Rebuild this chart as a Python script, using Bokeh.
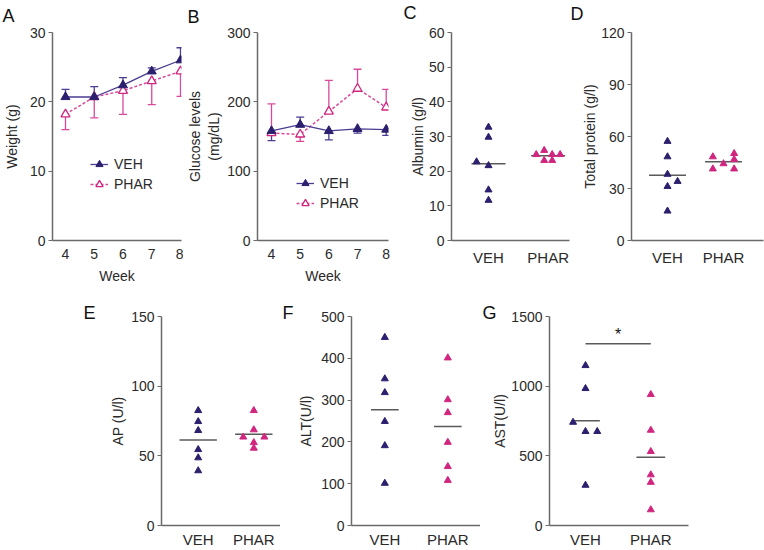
import numpy as np
from bokeh.plotting import figure
from bokeh.layouts import column, row
from bokeh.models import FixedTicker, Legend, LegendItem, Label, Spacer, Range1d
from bokeh.embed import file_html
from bokeh.resources import INLINE

# ---------------- data ----------------
weeks = [4, 5, 6, 7, 8]
weight_veh = [20.7, 20.7, 22.4, 24.4, 26.0]
weight_veh_sem = [1.1, 1.5, 1.1, 0.5, 1.8]
weight_veh_dir = [1, 1, 1, 1, 1]
weight_phar = [18.2, 20.7, 21.6, 23.0, 24.4]
weight_phar_sem = [2.2, 3.0, 3.4, 3.4, 3.6]
weight_phar_dir = [-1, -1, -1, -1, -1]

glucose_veh = [158, 167, 158, 161, 160]
glucose_veh_sem = [14, 11, 13, 6, 8.5]
glucose_veh_dir = [-1, 1, -1, -1, -1]
glucose_phar = [155, 153, 186, 219, 192]
glucose_phar_sem = [42, 10, 45, 28, 26]
glucose_phar_dir = [1, -1, 1, 1, 1]

groups = ["VEH", "PHAR"]

albumin_veh = [32.7, 29.8, 22.7, 21.6, 14.6, 11.6]
albumin_veh_jit = [0, 0, -0.2, 0, 0, 0]
albumin_phar = [24.8, 26.0, 24.8, 24.8, 23.1, 23.1]
albumin_phar_jit = [-0.2, -0.067, 0.067, 0.2, -0.067, 0.067]

protein_veh = [57.2, 48.3, 38.2, 31.2, 34.1, 17.0]
protein_veh_jit = [0, 0, 0, 0, 0.18, 0]
protein_phar = [48.3, 41.3, 44.3, 50.2, 46.8, 41.3]
protein_phar_jit = [-0.19, -0.19, 0, 0.19, 0.19, 0.19]

ap_veh = [82.5, 74.6, 68.2, 54.5, 48.6, 39.3]
ap_veh_jit = [0, 0, 0, 0, 0, 0]
ap_phar = [82.5, 68.7, 63.5, 63.5, 59.5, 55.5]
ap_phar_jit = [0, 0, -0.19, 0.19, 0, 0]

alt_veh = [450, 351, 318, 249, 191, 101]
alt_veh_jit = [0, 0, 0, 0, 0, 0]
alt_phar = [401, 301, 270, 199, 141, 108]
alt_phar_jit = [0, 0, 0, 0, 0, 0]

ast_veh = [1148, 983, 741, 675, 675, 289]
ast_veh_jit = [0, 0, -0.19, 0, 0.18, 0]
ast_phar = [940, 684, 531, 364, 310, 113]
ast_phar_jit = [0, 0, 0, 0, 0, 0]
ast_sig_y = 1305
ast_sig_text = "*"

# ---------------- style ----------------
FONT = "Liberation Sans"
VEH_C = "#2c1f6e"
VEH_LINE = "#4a3c90"
PHAR_C = "#d0267f"
PHAR_LINE = "#d9489a"
AXIS_C = "#6a6a6a"
TEXT_C = "#2a2a2a"
MEAN_C = "#5a5a5a"


def base_fig(w, h, xr, yr, mbl, mbr, mbt, mbb, yticks, ylabel, standoff):
    p = figure(width=w, height=h, x_range=Range1d(*xr), y_range=Range1d(*yr),
               output_backend="svg", toolbar_location=None,
               min_border_left=mbl, min_border_right=mbr,
               min_border_top=mbt, min_border_bottom=mbb)
    p.grid.visible = False
    p.outline_line_color = None
    p.background_fill_color = "white"
    p.border_fill_color = "white"
    for ax in (p.xaxis[0], p.yaxis[0]):
        ax.axis_line_color = AXIS_C
        ax.axis_line_width = 1.5
        ax.minor_tick_line_color = None
        ax.major_label_text_font = FONT
        ax.major_label_text_color = TEXT_C
        ax.axis_label_text_font = FONT
        ax.axis_label_text_font_style = "normal"
        ax.axis_label_text_color = TEXT_C
        ax.axis_label_text_font_size = "14px"
    y = p.yaxis[0]
    y.ticker = FixedTicker(ticks=yticks)
    y.major_tick_out = 4
    y.major_tick_in = 0
    y.major_tick_line_color = AXIS_C
    y.major_tick_line_width = 1.2
    y.major_label_standoff = 3
    y.major_label_text_font_size = "14px"
    y.axis_label = ylabel
    y.axis_label_standoff = standoff
    x = p.xaxis[0]
    x.major_tick_out = 0
    x.major_tick_in = 0
    x.major_label_standoff = 8
    return p


def letter_label(p, text, x, y):
    # panel letter in the "above" side panel (coordinates relative to that panel)
    p.add_layout(Label(x=x, y=y, x_units="screen", y_units="screen", text=text,
                       text_font=FONT, text_font_size="18px", text_color="#111111",
                       text_baseline="alphabetic", text_align="left"), "above")


def letter_title(p, text, offset, standoff):
    p.title.text = text
    p.title.align = "left"
    p.title.offset = offset
    p.title.standoff = standoff
    p.title.text_font = FONT
    p.title.text_font_size = "18px"
    p.title.text_font_style = "normal"
    p.title.text_color = "#111111"


def errbars(p, xs, means, sems, dirs, color):
    xs = np.array(xs, dtype=float)
    m = np.array(means, dtype=float)
    e = m + np.array(dirs) * np.array(sems, dtype=float)
    p.segment(x0=xs, x1=xs, y0=m, y1=e, line_color=color, line_width=1.3)
    p.scatter(xs, e, marker="dash", size=8, line_color=color, line_width=1.3)


def line_panel(w, xr, yr, mbl, mbr, mbt, yticks, ylabel, standoff,
               veh, veh_sem, veh_dir, phar, phar_sem, phar_dir, leg_loc):
    p = base_fig(w, 290, xr, yr, mbl, mbr, mbt, 50, yticks, ylabel, standoff)
    x = p.xaxis[0]
    x.ticker = FixedTicker(ticks=weeks)
    x.major_label_text_font_size = "14px"
    x.axis_label = "Week"
    x.axis_label_standoff = 6
    errbars(p, weeks, phar, phar_sem, phar_dir, PHAR_LINE)
    errbars(p, weeks, veh, veh_sem, veh_dir, VEH_LINE)
    lp = p.line(weeks, phar, line_color=PHAR_LINE, line_width=1.5, line_dash="3 2")
    lv = p.line(weeks, veh, line_color=VEH_LINE, line_width=1.3)
    sp = p.scatter(weeks, phar, marker="triangle", size=9, fill_color="white",
                   line_color=PHAR_C, line_width=1.3)
    sv = p.scatter(weeks, veh, marker="triangle", size=9, fill_color=VEH_C,
                   line_color=VEH_C)
    leg = Legend(items=[LegendItem(label="VEH", renderers=[lv, sv]),
                        LegendItem(label="PHAR", renderers=[lp, sp])],
                 location=leg_loc, border_line_color=None,
                 background_fill_alpha=0, padding=0, margin=0, spacing=2,
                 glyph_width=18, glyph_height=18, label_height=18,
                 label_standoff=6, label_text_font=FONT,
                 label_text_font_size="14px", label_text_color=TEXT_C)
    p.add_layout(leg)
    return p


def dot_panel(w, h, xr, yr, mbl, mbr, mbt, mbb, yticks, ylabel, standoff,
              veh, veh_jit, phar, phar_jit, half):
    p = base_fig(w, h, xr, yr, mbl, mbr, mbt, mbb, yticks, ylabel, standoff)
    x = p.xaxis[0]
    x.ticker = FixedTicker(ticks=[1, 2])
    x.major_label_overrides = {1: groups[0], 2: groups[1]}
    x.major_label_text_font_size = "15px"
    x.major_label_standoff = 5
    for k, (vals, jit, col) in enumerate(((veh, veh_jit, VEH_C), (phar, phar_jit, PHAR_C))):
        c = k + 1
        mu = float(np.mean(vals))
        p.segment(x0=[c - half], x1=[c + half], y0=[mu], y1=[mu],
                  line_color=MEAN_C, line_width=1.5)
        xs = c + np.array(jit, dtype=float)
        p.scatter(xs, vals, marker="triangle", size=7, fill_color=col, line_color=col)
    return p


# ---------------- top row ----------------
pA = line_panel(183, (3.548, 8.035), (0, 30), 52, 2, 32, [0, 10, 20, 30],
                "Weight (g)", 7, weight_veh, weight_veh_sem, weight_veh_dir,
                weight_phar, weight_phar_sem, weight_phar_dir, (38, 47))
letter_label(pA, "A", -50, 17)

pB = line_panel(212, (3.512, 8.08), (0, 300), 74, 7, 28, [0, 100, 200, 300],
                "Glucose levels\n(mg/dL)", 2, glucose_veh, glucose_veh_sem, glucose_veh_dir,
                glucose_phar, glucose_phar_sem, glucose_phar_dir, (39, 28))
letter_label(pB, "B", -70, 16)

pC = dot_panel(175, 290, (0.38, 2.357), (0, 60), 56, 1, 30, 50,
               [0, 10, 20, 30, 40, 50, 60], "Albumin (g/l)", 0,
               albumin_veh, albumin_veh_jit, albumin_phar, albumin_phar_jit, 0.285)
pC.xaxis[0].major_label_standoff = 8
letter_label(pC, "C", -48, 20)

pD = dot_panel(194, 290, (0.357, 2.714), (0, 120), 61, 1, 29, 49,
               [0, 30, 60, 90, 120], "Total protein (g/l)", 0,
               protein_veh, protein_veh_jit, protein_phar, protein_phar_jit, 0.33)
pD.xaxis[0].major_label_standoff = 8
letter_label(pD, "D", -61, 19)

# ---------------- bottom row ----------------
pE = dot_panel(200, 260, (0.34, 2.48), (0, 150), 81, 0, 25, 24,
               [0, 50, 100, 150], "AP (U/l)", 2,
               ap_veh, ap_veh_jit, ap_phar, ap_phar_jit, 0.336)
letter_title(pE, "E", -78, -13)

pF = dot_panel(200, 260, (0.471, 2.519), (0, 500), 71, 0, 26, 24,
               [0, 100, 200, 300, 400, 500], "ALT(U/l)", 4,
               alt_veh, alt_veh_jit, alt_phar, alt_phar_jit, 0.22)
letter_title(pF, "F", -69, -13)

pG = dot_panel(220, 260, (0.449, 2.577), (0, 1500), 69, 12, 23, 24,
               [0, 500, 1000, 1500], "AST(U/l)", 0,
               ast_veh, ast_veh_jit, ast_phar, ast_phar_jit, 0.22)
letter_title(pG, "G", -67, -13)
pG.line([1, 2], [ast_sig_y, ast_sig_y], line_color=MEAN_C, line_width=1.5)
pG.add_layout(Label(x=1.5, y=ast_sig_y, y_offset=9, text=ast_sig_text,
                    text_font=FONT, text_font_size="16px", text_color="#111111",
                    text_align="center", text_baseline="alphabetic"))

top = row(pA, pB, pC, pD)
bottom = row(Spacer(width=80, height=260), pE, pF, pG)
layout = column(top, bottom)

open("out.html", "w").write(file_html(layout, INLINE))
